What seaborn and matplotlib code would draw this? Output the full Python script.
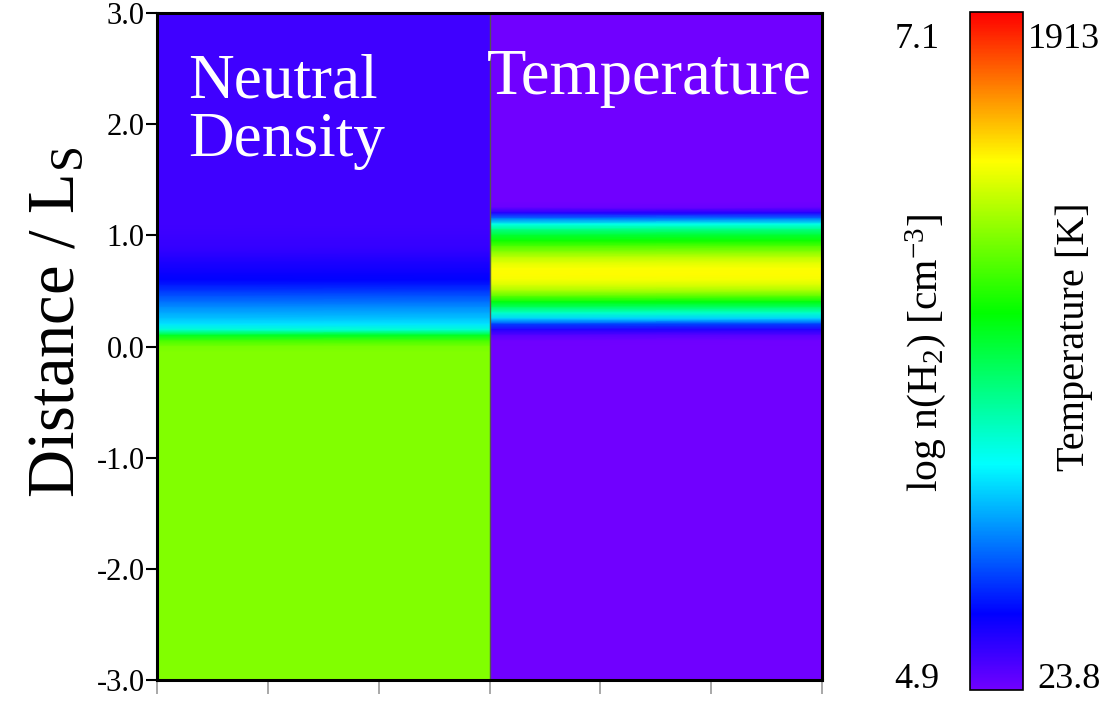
import numpy as np
import matplotlib
matplotlib.use("Agg")
import matplotlib.pyplot as plt
from matplotlib.colors import LinearSegmentedColormap
import seaborn as sns

# ---------------- data (rows from distance +3.0 at top to -3.0 at bottom, step 0.05) ----------------
distance_ticks = [3.0, 2.0, 1.0, 0.0, -1.0, -2.0, -3.0]
distance_tick_labels = ["3.0", "2.0", "1.0", "0.0", "-1.0", "-2.0", "-3.0"]

# log n(H2) [cm^-3]
log_density = [
    5.01, 5.01, 5.01, 5.01, 5.01, 5.01, 5.01, 5.01, 5.01, 5.01,   # 3.00 .. 2.55
    5.01, 5.01, 5.01, 5.01, 5.01, 5.01, 5.01, 5.01, 5.01, 5.01,   # 2.50 .. 2.05
    5.01, 5.01, 5.01, 5.01, 5.01, 5.01, 5.01, 5.01, 5.01, 5.01,   # 2.00 .. 1.55
    5.01, 5.01, 5.01, 5.01, 5.01, 5.01, 5.01, 5.01, 5.01, 5.015,  # 1.50 .. 1.05
    5.02, 5.025, 5.03, 5.05, 5.07, 5.09, 5.11, 5.13, 5.15, 5.20,  # 1.00 .. 0.55
    5.25, 5.31, 5.36, 5.42, 5.47, 5.52, 5.58, 5.72, 6.05, 6.26,   # 0.50 .. 0.05
    6.35,                                                          # 0.00
    6.37, 6.37, 6.37, 6.37, 6.37, 6.37, 6.37, 6.37, 6.37, 6.37,   # -0.05 .. -0.50
    6.37, 6.37, 6.37, 6.37, 6.37, 6.37, 6.37, 6.37, 6.37, 6.37,   # -0.55 .. -1.00
    6.37, 6.37, 6.37, 6.37, 6.37, 6.37, 6.37, 6.37, 6.37, 6.37,   # -1.05 .. -1.50
    6.37, 6.37, 6.37, 6.37, 6.37, 6.37, 6.37, 6.37, 6.37, 6.37,   # -1.55 .. -2.00
    6.37, 6.37, 6.37, 6.37, 6.37, 6.37, 6.37, 6.37, 6.37, 6.37,   # -2.05 .. -2.50
    6.37, 6.37, 6.37, 6.37, 6.37, 6.37, 6.37, 6.37, 6.37, 6.37,   # -2.55 .. -3.00
]

# Temperature [K]
temperature = [
    23.8, 23.8, 23.8, 23.8, 23.8, 23.8, 23.8, 23.8, 23.8, 23.8,   # 3.00 .. 2.55
    23.8, 23.8, 23.8, 23.8, 23.8, 23.8, 23.8, 23.8, 23.8, 23.8,   # 2.50 .. 2.05
    23.8, 23.8, 23.8, 23.8, 23.8, 23.8, 23.8, 23.8, 23.8, 23.8,   # 2.00 .. 1.55
    23.8, 23.8, 23.8, 23.8, 24.0, 40.0, 170.0, 430.0, 690.0, 860.0,  # 1.50 .. 1.05
    990.0, 1100.0, 1210.0, 1300.0, 1390.0, 1450.0, 1490.0, 1500.0, 1480.0, 1430.0,  # 1.00 .. 0.55
    1350.0, 1220.0, 1050.0, 900.0, 740.0, 580.0, 340.0, 170.0, 75.0, 30.0,  # 0.50 .. 0.05
    23.8,                                                          # 0.00
    23.8, 23.8, 23.8, 23.8, 23.8, 23.8, 23.8, 23.8, 23.8, 23.8,
    23.8, 23.8, 23.8, 23.8, 23.8, 23.8, 23.8, 23.8, 23.8, 23.8,
    23.8, 23.8, 23.8, 23.8, 23.8, 23.8, 23.8, 23.8, 23.8, 23.8,
    23.8, 23.8, 23.8, 23.8, 23.8, 23.8, 23.8, 23.8, 23.8, 23.8,
    23.8, 23.8, 23.8, 23.8, 23.8, 23.8, 23.8, 23.8, 23.8, 23.8,
    23.8, 23.8, 23.8, 23.8, 23.8, 23.8, 23.8, 23.8, 23.8, 23.8,
]

density_range = (4.9, 7.1)
temperature_range = (23.8, 1913.0)
density_range_labels = ("7.1", "4.9")
temperature_range_labels = ("1913", "23.8")
panel_titles = ["Neutral\nDensity", "Temperature"]

# ---------------- style ----------------
sns.set_style("white")
plt.rcParams["font.family"] = "serif"
plt.rcParams["font.serif"] = ["Liberation Serif", "Times New Roman", "DejaVu Serif"]
plt.rcParams["mathtext.fontset"] = "custom"
plt.rcParams["mathtext.rm"] = "Liberation Serif"
plt.rcParams["mathtext.it"] = "Liberation Serif:italic"
plt.rcParams["axes.unicode_minus"] = False
plt.rcParams["text.color"] = "black"
plt.rcParams["axes.labelcolor"] = "black"
plt.rcParams["ytick.labelcolor"] = "black"

rainbow = LinearSegmentedColormap.from_list(
    "idl_rainbow",
    [(0.0, (0.44, 0.0, 1.0)), (0.112, (0.0, 0.0, 1.0)), (0.333, (0.0, 1.0, 1.0)),
     (0.556, (0.0, 1.0, 0.0)), (0.78, (1.0, 1.0, 0.0)), (1.0, (1.0, 0.0, 0.0))], N=512)

W, H = 1113.0, 702.0
fig = plt.figure(figsize=(W / 100, H / 100), dpi=100)

left_px, right_px, mid_px, top_px, bot_px = 157, 822, 490, 13, 680
ax1 = fig.add_axes([left_px / W, 1 - bot_px / H, (mid_px - left_px) / W, (bot_px - top_px) / H])
ax2 = fig.add_axes([mid_px / W, 1 - bot_px / H, (right_px - mid_px) / W, (bot_px - top_px) / H])
ax0 = fig.add_axes([left_px / W, 1 - bot_px / H, (right_px - left_px) / W, (bot_px - top_px) / H])
cax = fig.add_axes([970 / W, 1 - 690 / H, 53 / W, 678 / H])
ax0.patch.set_alpha(0)

nrows = len(log_density)
dens2d = np.column_stack([log_density, log_density])
temp2d = np.column_stack([temperature, temperature])

sns.heatmap(dens2d, ax=ax1, cmap=rainbow, vmin=density_range[0], vmax=density_range[1],
            cbar=False, shading="gouraud", xticklabels=False, yticklabels=False)
sns.heatmap(temp2d, ax=ax2, cmap=rainbow, vmin=temperature_range[0], vmax=temperature_range[1],
            cbar=True, cbar_ax=cax, shading="gouraud", xticklabels=False, yticklabels=False)
for ax in (ax1, ax2):
    ax.set_xlim(0, 1)
    ax.set_ylim(nrows - 1, 0)
    ax.axis("off")

# colorbar styling
cax.set_yticks([])
cax.set_xticks([])
cbar = ax2.collections[0].colorbar
cbar.outline.set_visible(True)
cbar.outline.set_linewidth(1.2)
cbar.outline.set_edgecolor("black")

# overlay frame axes
ax0.set_xlim(0, 6)
ax0.set_ylim(-3, 3)
ax0.set_yticks(distance_ticks)
ax0.set_yticklabels(distance_tick_labels, fontsize=22, color="black")
ax0.set_xticks(range(7))
ax0.set_xticklabels([])
ax0.tick_params(axis="y", direction="out", length=8, width=1.5, color="black", pad=1, left=True)
ax0.tick_params(axis="x", direction="out", length=10, width=1.2, color="#999999", bottom=True)
for sp in ax0.spines.values():
    sp.set_visible(True)
    sp.set_linewidth(2.2)
    sp.set_color("black")
ax0.axvline(3, color="#555555", lw=1.0)
ax0.set_ylabel(r"Distance / L$_\mathregular{S}$", fontsize=48, color="black")
ax0.yaxis.set_label_coords((88 - left_px) / (right_px - left_px),
                           (bot_px - 322) / (bot_px - top_px))

# panel titles
fig.text(188 / W, 1 - 53 / H, panel_titles[0], ha="left", va="top", color="white",
         fontsize=45.5, linespacing=1.02)
fig.text(487 / W, 1 - 48 / H, panel_titles[1], ha="left", va="top", color="white",
         fontsize=46.5)

# colorbar annotations
fig.text(917 / W, 1 - 40 / H, density_range_labels[0], ha="center", va="center", fontsize=26)
fig.text(917 / W, 1 - 680 / H, density_range_labels[1], ha="center", va="center", fontsize=26)
fig.text(1064 / W, 1 - 40 / H, temperature_range_labels[0], ha="center", va="center", fontsize=26)
fig.text(1069 / W, 1 - 680 / H, temperature_range_labels[1], ha="center", va="center", fontsize=26)
fig.text(926 / W, 1 - 353 / H, r"log n(H$_\mathregular{2}$) [cm$^\mathregular{-3}$]",
         rotation=90, ha="center", va="center", fontsize=30)
fig.text(1074 / W, 1 - 337 / H, "Temperature [K]", rotation=90, ha="center", va="center",
         fontsize=29)

fig.savefig("out.png", dpi=100)
